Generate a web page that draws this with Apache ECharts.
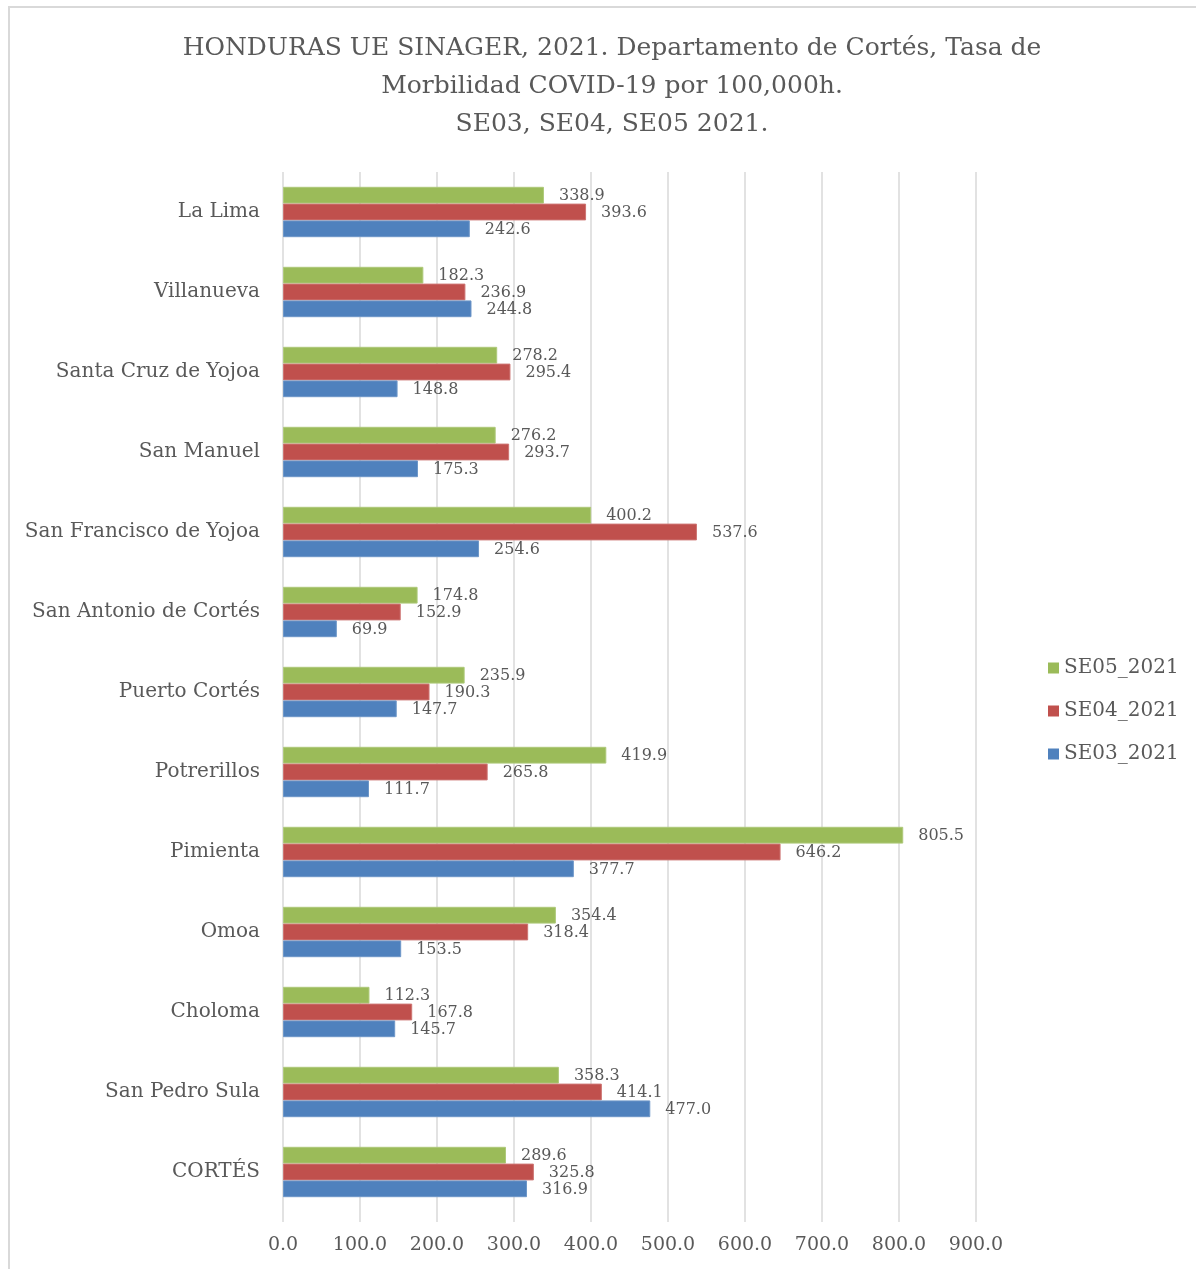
<!DOCTYPE html>
<html>
<head>
<meta charset="utf-8">
<script src="https://cdn.jsdelivr.net/npm/echarts@6/dist/echarts.min.js"></script>
<style>html,body{margin:0;padding:0;background:#fff}#c{width:1196px;height:1269px}</style>
</head>
<body>
<div id="c"></div>
<script>
const categories = ["CORTÉS","San Pedro Sula","Choloma","Omoa","Pimienta","Potrerillos","Puerto Cortés","San Antonio de Cortés","San Francisco de Yojoa","San Manuel","Santa Cruz de Yojoa","Villanueva","La Lima"];
const se03 = [316.9,477.0,145.7,153.5,377.7,111.7,147.7,69.9,254.6,175.3,148.8,244.8,242.6];
const se04 = [325.8,414.1,167.8,318.4,646.2,265.8,190.3,152.9,537.6,293.7,295.4,236.9,393.6];
const se05 = [289.6,358.3,112.3,354.4,805.5,419.9,235.9,174.8,400.2,276.2,278.2,182.3,338.9];
const seriesNames = ["SE03_2021","SE04_2021","SE05_2021"];
const xTicks = {min:0, max:900, interval:100};

const FONT = "DejaVu Serif";
const TXT = "#595959";
const GRID = "#d9d9d9";
const colors = ["#4F81BD","#C0504D","#9BBB59"];
const borders = ["#6E97C8","#CD7472","#AEC97A"];

const chart = echarts.init(document.getElementById('c'), null, {renderer:'canvas'});
const mk = (name, data, color, border) => ({
  name, type:'bar', data,
  itemStyle:{color, borderColor:border, borderWidth:1},
  barGap:'0%', barCategoryGap:'37%',
  label:{show:true, position:'right', distance:15, offset:[0,1], fontFamily:FONT, fontSize:16, color:TXT,
    formatter:p=>Number(p.value).toFixed(1)}
});
chart.setOption({
  animation:false,
  backgroundColor:'#fff',
  textStyle:{fontFamily:FONT},
  title:{
    text:"HONDURAS UE SINAGER, 2021. Departamento de Cortés, Tasa de\nMorbilidad COVID-19 por 100,000h.\nSE03, SE04, SE05 2021.",
    left:607, top:24, textAlign:'center',
    textStyle:{fontFamily:FONT, fontSize:25, fontWeight:'normal', color:TXT, lineHeight:38, align:'center'}
  },
  legend:{
    orient:'vertical', left:1043, top:653,
    data:[seriesNames[2],seriesNames[1],seriesNames[0]],
    itemWidth:11, itemHeight:11, itemGap:23, icon:'rect',
    itemStyle:{borderWidth:0},
    textStyle:{fontFamily:FONT, fontSize:20, color:TXT}
  },
  grid:{left:283, top:172, width:693, height:1040, containLabel:false},
  xAxis:{
    type:'value', min:xTicks.min, max:xTicks.max, interval:xTicks.interval,
    axisLine:{show:false},
    axisTick:{show:true, length:10, lineStyle:{color:GRID, width:1.5}},
    splitLine:{show:true, lineStyle:{color:GRID, width:1.5}},
    axisLabel:{fontFamily:FONT, fontSize:19, color:TXT, margin:24, formatter:v=>v.toFixed(1)}
  },
  yAxis:{
    type:'category', data:categories,
    axisLine:{show:false}, axisTick:{show:false},
    axisLabel:{fontFamily:FONT, fontSize:20, color:TXT, margin:23}
  },
  graphic:[{type:'rect', shape:{x:9, y:7, width:1300, height:1400}, style:{fill:null, stroke:GRID, lineWidth:2}, silent:true}],
  series:[mk(seriesNames[2], se05, colors[2], borders[2]), mk(seriesNames[1], se04, colors[1], borders[1]), mk(seriesNames[0], se03, colors[0], borders[0])]
});
</script>
</body>
</html>
